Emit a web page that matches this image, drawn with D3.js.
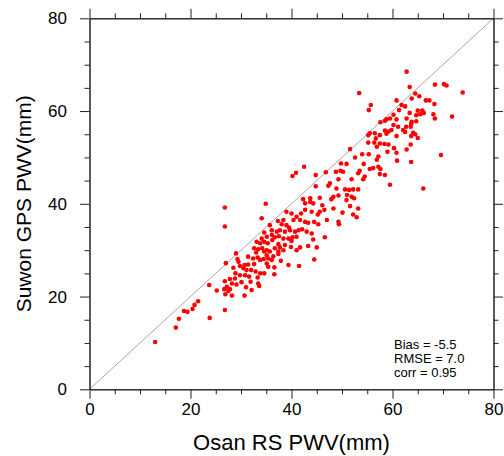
<!DOCTYPE html>
<html>
<head>
<meta charset="utf-8">
<script src="https://cdn.jsdelivr.net/npm/d3@7"></script>
<style>
  html, body { margin: 0; padding: 0; background: #fff; }
  svg { display: block; font-family: "Liberation Sans", Arial, Helvetica, sans-serif; }
</style>
</head>
<body>
<svg id="chart" width="504" height="456"></svg>
<script>
// ---- data ----
const osanRS = [
  13.0,17.1,17.7,18.7,19.4,
  20.4,20.8,21.5,23.7,25.2,23.8,26.8,26.8,26.8,34.1,29.0,27.0,
  34.6,34.1,33.1,33.8,34.6,32.6,33.4,34.2,34.6,31.4,32.4,33.3,33.8,34.5,29.5,29.8,30.7,31.4,30.5,31.1,32.0,32.9,33.8,34.6,
  28.5,28.9,29.8,30.8,31.6,28.8,27.8,33.3,26.8,28.2,29.1,30.1,27.2,27.8,33.4,33.6,26.7,27.5,28.2,30.7,32.1,
  31.9,32.6,29.3,26.9,31.0,33.0,
  42.5,40.9,40.2,44.8,46.8,47.3,47.6,44.8,48.3,47.9,43.7,43.7,42.3,42.7,44.3,45.6,46.1,48.3,46.5,45.6,45.2,44.0,42.7,41.9,41.0,40.0,39.0,
  40.4,41.7,42.7,43.3,44.5,45.3,47.0,34.9,37.3,38.4,38.05,39.0,39.5,35.7,36.1,37.1,37.7,38.7,39.7,40.7,41.4,42.1,43.0,
  35.1,36.1,36.7,37.5,38.4,39.4,40.2,41.0,44.0,44.3,40.0,36.2,35.3,37.4,38.7,39.9,37.7,36.7,35.1,35.7,37.4,38.4,41.0,41.7,43.3,45.0,46.6,
  35.1,35.4,36.4,37.4,36.1,37.9,39.4,41.5,44.5,35.1,35.4,36.6,36.6,
  55.7,55.3,60.8,61.8,61.3,60.2,59.5,58.8,58.5,57.6,60.8,60.2,61.1,62.1,59.8,59.2,58.5,58.8,60.8,57.5,56.5,55.5,55.2,56.7,55.2,56.4,57.5,58.4,59.2,56.9,
  59.0,60.3,60.8,60.9,51.6,57.2,56.9,55.3,54.0,52.6,49.8,50.9,54.3,56.2,57.2,57.6,55.5,53.5,53.2,54.5,54.2,57.5,58.5,59.5,49.7,50.2,48.8,49.3,51.9,
  48.9,50.6,51.4,52.2,53.2,49.3,51.0,51.9,50.9,52.4,51.6,53.2,50.1,52.2,52.9,49.3,49.4,53.4,
  62.8,63.4,68.4,70.2,70.7,73.9,64.5,65.3,63.8,66.6,67.3,68.3,62.5,63.4,65.0,65.9,66.2,65.5,64.7,68.1,68.4,71.8,62.8,63.8,64.7,63.7,62.7,63.6,
  64.1,64.5,65.0,63.7,62.5,63.6,62.8,69.6,63.7,66.1
];
const suwonGPS = [
  10.2,13.3,15.2,16.9,16.7,
  17.3,18.2,19.0,22.5,21.3,15.4,17.1,39.2,35.1,36.9,29.3,27.2,
  33.8,32.5,31.8,31.5,31.8,30.4,30.2,30.4,29.7,28.6,28.2,28.4,27.9,28.1,27.5,26.6,26.8,26.9,26.1,25.7,25.7,25.4,25.0,25.0,
  26.2,25.0,24.6,24.6,24.3,23.9,23.8,24.1,23.3,22.8,22.6,23.1,22.1,21.6,22.8,22.3,21.6,21.2,20.2,20.2,21.4,
  23.2,27.0,28.1,20.5,22.0,29.5,
  48.0,46.7,46.0,46.2,46.8,43.9,44.4,43.8,41.5,41.0,41.2,40.4,41.0,40.1,40.1,41.3,39.7,39.0,38.7,38.3,37.7,38.3,38.7,37.9,37.2,37.9,38.3,
  36.5,36.5,36.1,35.9,36.1,35.6,36.5,40.0,36.3,36.5,35.6,35.4,34.9,35.4,34.3,34.0,34.3,34.0,34.3,34.0,34.3,34.5,34.0,
  32.9,33.3,32.8,33.0,32.5,32.5,32.8,32.9,33.6,32.3,32.0,32.2,31.5,31.3,31.1,30.7,30.6,30.4,30.0,29.7,29.7,30.0,30.0,30.6,30.9,30.6,32.8,
  28.9,28.2,28.7,29.2,27.9,27.7,26.8,26.6,28.0,27.1,26.4,26.3,24.8,
  61.3,60.2,62.3,61.3,60.2,59.2,58.4,58.2,57.9,57.6,58.2,57.0,56.6,55.9,55.9,55.6,55.8,55.1,54.6,54.8,55.2,55.2,54.8,54.1,53.2,53.2,53.0,52.9,52.8,52.3,
  51.2,52.0,51.0,49.3,51.8,50.2,49.5,50.7,50.7,50.0,48.7,48.6,48.6,47.7,48.0,47.5,47.5,47.1,46.6,45.9,45.3,46.4,46.2,44.1,47.1,46.9,46.9,45.3,45.3,
  43.3,43.1,43.0,43.1,43.1,41.8,41.9,41.5,40.8,41.2,39.5,39.0,38.1,37.7,37.1,36.1,35.6,63.9,
  68.5,65.2,65.7,65.8,65.5,64.0,63.8,63.2,62.7,62.3,62.3,61.5,61.0,59.6,60.1,60.1,59.6,59.3,59.1,59.3,58.4,58.8,58.4,57.7,57.8,57.2,56.6,56.6,
  55.3,55.0,54.2,54.6,55.5,52.8,51.7,50.5,49.0,43.3
];
const xTicks = [0, 20, 40, 60, 80];
const yTicks = [0, 20, 40, 60, 80];
const minorTicks = [5, 10, 15, 25, 30, 35, 45, 50, 55, 65, 70, 75];
const statLines = ["Bias = -5.5", "RMSE = 7.0", "corr = 0.95"];
const xTitle = "Osan RS PWV(mm)";
const yTitle = "Suwon GPS PWV(mm)";

// ---- layout ----
const L = 89.5, R = 493.5, T = 18.3, B = 389.3;
const svg = d3.select("#chart");
const x = d3.scaleLinear().domain([0, 80]).range([L, R]);
const y = d3.scaleLinear().domain([0, 80]).range([B, T]);

const points = osanRS.map((v, i) => ({ x: v, y: suwonGPS[i] }));

// 1:1 line
svg.append("line")
  .attr("x1", x(0)).attr("y1", y(0)).attr("x2", x(80)).attr("y2", y(80))
  .attr("stroke", "#a8a8a8").attr("stroke-width", 1);

// points
svg.append("g").selectAll("circle").data(points).join("circle")
  .attr("cx", d => x(d.x)).attr("cy", d => y(d.y)).attr("r", 2.3)
  .attr("fill", "#ff0000");

// axes
function styleAxis(g) {
  g.selectAll("path").attr("stroke", "#222").attr("stroke-width", 1);
  g.selectAll("line").attr("stroke", "#222").attr("stroke-width", 1);
  g.selectAll("text").attr("fill", "#000")
    .style("font-family", '"Liberation Sans", Arial, sans-serif').style("font-size", "17px");
}
const major = 9.5, minor = 5;
// bottom
svg.append("g").attr("transform", `translate(0,${B})`)
  .call(d3.axisBottom(x).tickValues(xTicks).tickSize(major).tickSizeOuter(0).tickPadding(4.5).tickFormat(d3.format("d")))
  .call(styleAxis);
svg.append("g").attr("transform", `translate(0,${B})`)
  .call(d3.axisBottom(x).tickValues(minorTicks).tickSize(minor).tickSizeOuter(0).tickFormat(""))
  .call(styleAxis);
// top
svg.append("g").attr("transform", `translate(0,${T})`)
  .call(d3.axisTop(x).tickValues(xTicks).tickSize(major).tickSizeOuter(0).tickFormat(""))
  .call(styleAxis);
svg.append("g").attr("transform", `translate(0,${T})`)
  .call(d3.axisTop(x).tickValues(minorTicks).tickSize(minor).tickSizeOuter(0).tickFormat(""))
  .call(styleAxis);
// left
svg.append("g").attr("transform", `translate(${L},0)`)
  .call(d3.axisLeft(y).tickValues(yTicks).tickSize(major).tickSizeOuter(0).tickPadding(13).tickFormat(d3.format("d")))
  .call(styleAxis);
svg.append("g").attr("transform", `translate(${L},0)`)
  .call(d3.axisLeft(y).tickValues(minorTicks).tickSize(minor).tickSizeOuter(0).tickFormat(""))
  .call(styleAxis);
// right
svg.append("g").attr("transform", `translate(${R},0)`)
  .call(d3.axisRight(y).tickValues(yTicks).tickSize(major).tickSizeOuter(0).tickFormat(""))
  .call(styleAxis);
svg.append("g").attr("transform", `translate(${R},0)`)
  .call(d3.axisRight(y).tickValues(minorTicks).tickSize(minor).tickSizeOuter(0).tickFormat(""))
  .call(styleAxis);

// titles
svg.append("text").attr("x", (L + R) / 2).attr("y", 450).attr("text-anchor", "middle")
  .style("font-size", "22px").attr("fill", "#000").text(xTitle);
svg.append("text").attr("transform", `translate(30.5,${(T + B) / 2}) rotate(-90)`).attr("text-anchor", "middle")
  .style("font-size", "21px").attr("fill", "#000").text(yTitle);

// stats
svg.append("g").selectAll("text").data(statLines).join("text")
  .attr("x", 394).attr("y", (d, i) => 349 + i * 14)
  .style("font-size", "13px").attr("fill", "#000").text(d => d);
</script>
</body>
</html>
